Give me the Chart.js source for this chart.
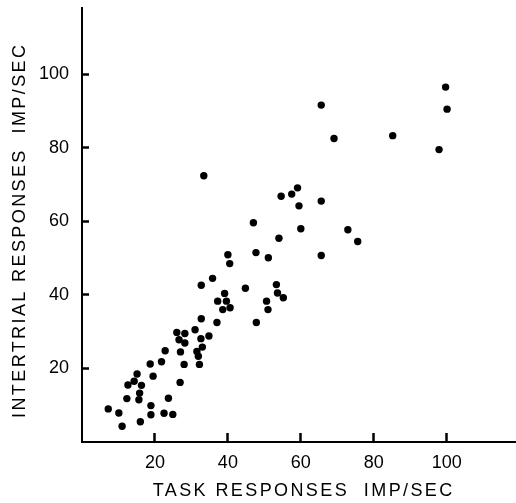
<!DOCTYPE html>
<html>
<head>
<meta charset="utf-8">
<script src="https://cdn.jsdelivr.net/npm/chart.js@4.4.1/dist/chart.umd.min.js"></script>
<style>
  html, body { margin: 0; padding: 0; background: #fff; overflow: hidden; }
  #wrap { width: 516px; height: 503px; position: relative; }
  #scatter { display: block; }
</style>
</head>
<body>
<div id="wrap"><canvas id="scatter"></canvas></div>
<script>
// task responses (x) and intertrial responses (y), imp/sec
const taskRate = [
  7.2, 10.1, 11.0, 12.3, 12.6, 14.3, 15.1, 16.3, 15.8, 15.6,
  16.0, 18.9, 18.9, 18.7, 19.5, 21.8, 22.8, 23.7, 22.5, 24.9,
  26.9, 27.0, 28.0, 26.0, 28.2, 26.6, 28.2, 31.0, 32.7, 32.6,
  33.0, 31.5, 31.9, 32.2, 34.8, 37.0, 32.7, 35.8, 40.0, 40.5,
  37.2, 39.1, 39.6, 38.6, 40.6, 44.8, 33.4, 47.0, 47.7, 47.8,
  50.6, 51.0, 51.1, 53.3, 53.6, 55.2, 54.0, 54.6, 57.5, 59.1,
  59.5, 60.0, 65.6, 65.6, 65.6, 69.1, 72.9, 75.6, 85.2, 97.9,
  99.7, 100.1
];
const intertrialRate = [
  9.0, 7.9, 4.3, 11.8, 15.5, 16.5, 18.5, 15.4, 13.3, 11.5,
  5.5, 9.9, 7.4, 21.2, 17.9, 21.8, 24.8, 11.9, 7.8, 7.5,
  16.2, 24.5, 21.1, 29.8, 29.5, 27.8, 26.9, 30.5, 33.5, 28.1,
  25.8, 24.6, 23.3, 21.1, 28.8, 32.5, 42.6, 44.5, 50.9, 48.5,
  38.3, 40.4, 38.3, 36.0, 36.5, 41.8, 72.4, 59.6, 51.5, 32.5,
  38.3, 36.0, 50.1, 42.8, 40.5, 39.2, 55.4, 66.8, 67.4, 69.1,
  64.2, 58.0, 91.6, 65.5, 50.7, 82.5, 57.7, 54.5, 83.3, 79.5,
  96.5, 90.5
];
const xTicks = [20, 40, 60, 80, 100];
const yTicks = [20, 40, 60, 80, 100];
const xTitle = 'TASK RESPONSES  IMP/SEC';
const yTitle = 'INTERTRIAL RESPONSES  IMP/SEC';

const FONT = '"Liberation Sans", Arial, sans-serif';

// letter-spaced axis titles (Chart.js titles can't space letters)
const spacedTitles = {
  id: 'spacedTitles',
  afterDraw(chart) {
    const ctx = chart.ctx;
    ctx.save();
    ctx.fillStyle = '#000';
    ctx.font = '18px ' + FONT;
    ctx.letterSpacing = '2.4px';
    ctx.textAlign = 'left';
    ctx.textBaseline = 'alphabetic';

    let w = ctx.measureText(xTitle).width - 2.4;
    ctx.fillText(xTitle, 302.5 - w / 2, 496);

    w = ctx.measureText(yTitle).width - 2.4;
    ctx.translate(25, 231.5);
    ctx.rotate(-Math.PI / 2);
    ctx.fillText(yTitle, -w / 2, 0);
    ctx.restore();
  }
};

new Chart(document.getElementById('scatter'), {
  type: 'scatter',
  data: {
    datasets: [{
      data: taskRate.map((v, i) => ({ x: v, y: intertrialRate[i] })),
      backgroundColor: '#000',
      borderWidth: 0,
      pointRadius: 3.7,
      pointHoverRadius: 3.7
    }]
  },
  options: {
    responsive: true,
    maintainAspectRatio: false,
    animation: false,
    layout: { autoPadding: false, padding: { top: 8, right: 0, left: 0, bottom: 0 } },
    plugins: {
      legend: { display: false },
      tooltip: { enabled: false }
    },
    scales: {
      x: {
        type: 'linear',
        min: 0,
        max: 119,
        afterBuildTicks: s => { s.ticks = xTicks.map(v => ({ value: v })); },
        afterFit: s => { s.height = 61; s.paddingLeft = 0; s.paddingRight = 0; },
        // negative tickLength draws the marks inward
        grid: { display: true, drawOnChartArea: false, drawTicks: true, tickLength: -9, tickWidth: 2.5, tickColor: '#000' },
        border: { display: true, color: '#000', width: 2 },
        ticks: { color: '#000', padding: 19, font: { family: FONT, size: 18 } }
      },
      y: {
        type: 'linear',
        min: 0,
        max: 118,
        afterBuildTicks: s => { s.ticks = yTicks.map(v => ({ value: v })); },
        afterFit: s => { s.width = 82; s.paddingTop = 0; s.paddingBottom = 0; },
        grid: { display: true, drawOnChartArea: false, drawTicks: true, tickLength: -7, tickWidth: 2.5, tickColor: '#000' },
        border: { display: true, color: '#000', width: 2 },
        ticks: { color: '#000', padding: 20, font: { family: FONT, size: 18 } }
      }
    }
  },
  plugins: [spacedTitles]
});
</script>
</body>
</html>
